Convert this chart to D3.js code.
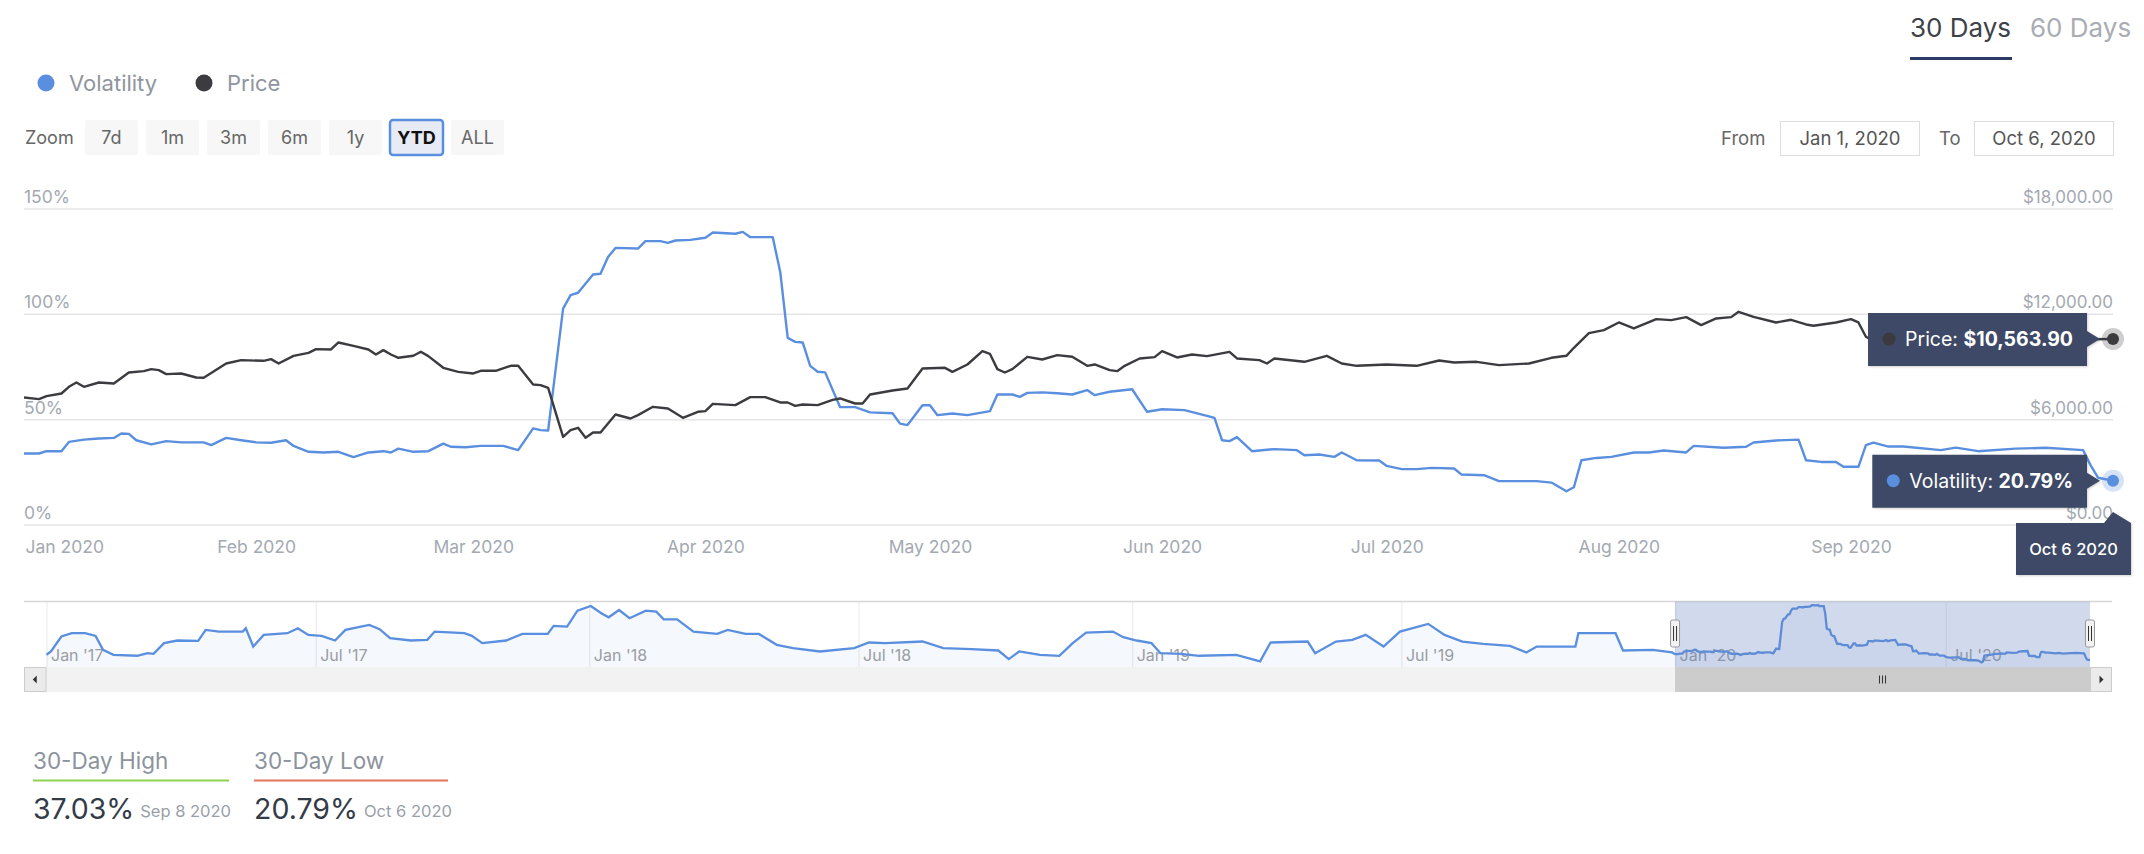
<!DOCTYPE html>
<html><head><meta charset="utf-8">
<script src="https://cdn.jsdelivr.net/npm/d3@7"></script>
<style>
html,body{margin:0;padding:0;background:#fff;}
svg{display:block;font-family:Inter,"Noto Sans",sans-serif;}
</style></head><body>
<svg id="chart" width="2144" height="854"></svg>
<script>
// ---------------- DATA ----------------
const seriesNames = ["Volatility", "Price"];
const periodTabs = ["30 Days", "60 Days"];
const zoomButtons = ["7d", "1m", "3m", "6m", "1y", "YTD", "ALL"];
const selectedZoom = "YTD";
const rangeFrom = "Jan 1, 2020";
const rangeTo = "Oct 6, 2020";
const volTicks = [0, 50, 100, 150];
const priceTicks = [0, 6000, 12000, 18000];
const monthTicks = ["2020-01-01","2020-02-01","2020-03-01","2020-04-01","2020-05-01","2020-06-01","2020-07-01","2020-08-01","2020-09-01"];
const navTicks = ["2017-01-01","2017-07-01","2018-01-01","2018-07-01","2019-01-01","2019-07-01","2020-01-01","2020-07-01"];

const volDates = ["2020-01-01","2020-01-03","2020-01-04","2020-01-06","2020-01-07","2020-01-09","2020-01-11","2020-01-13","2020-01-14","2020-01-15","2020-01-16","2020-01-18","2020-01-20","2020-01-22","2020-01-25","2020-01-26","2020-01-28","2020-01-30","2020-02-01","2020-02-03","2020-02-05","2020-02-06","2020-02-08","2020-02-10","2020-02-12","2020-02-14","2020-02-16","2020-02-18","2020-02-19","2020-02-20","2020-02-22","2020-02-24","2020-02-26","2020-02-27","2020-02-29","2020-03-02","2020-03-05","2020-03-07","2020-03-09","2020-03-10","2020-03-11","2020-03-12","2020-03-13","2020-03-14","2020-03-15","2020-03-17","2020-03-18","2020-03-19","2020-03-20","2020-03-23","2020-03-24","2020-03-26","2020-03-27","2020-03-28","2020-03-30","2020-04-01","2020-04-02","2020-04-05","2020-04-06","2020-04-07","2020-04-10","2020-04-11","2020-04-12","2020-04-13","2020-04-14","2020-04-15","2020-04-16","2020-04-17","2020-04-19","2020-04-21","2020-04-23","2020-04-26","2020-04-27","2020-04-28","2020-04-30","2020-05-01","2020-05-02","2020-05-04","2020-05-06","2020-05-09","2020-05-10","2020-05-12","2020-05-13","2020-05-14","2020-05-16","2020-05-18","2020-05-20","2020-05-22","2020-05-23","2020-05-25","2020-05-28","2020-05-30","2020-06-01","2020-06-04","2020-06-07","2020-06-08","2020-06-09","2020-06-10","2020-06-11","2020-06-13","2020-06-16","2020-06-19","2020-06-20","2020-06-22","2020-06-24","2020-06-25","2020-06-27","2020-06-30","2020-07-01","2020-07-03","2020-07-05","2020-07-07","2020-07-10","2020-07-11","2020-07-14","2020-07-16","2020-07-21","2020-07-23","2020-07-25","2020-07-26","2020-07-27","2020-07-29","2020-07-31","2020-08-03","2020-08-05","2020-08-07","2020-08-10","2020-08-11","2020-08-15","2020-08-18","2020-08-19","2020-08-22","2020-08-25","2020-08-26","2020-08-28","2020-08-30","2020-08-31","2020-09-02","2020-09-03","2020-09-04","2020-09-06","2020-09-08","2020-09-13","2020-09-15","2020-09-18","2020-09-23","2020-09-27","2020-10-02","2020-10-03","2020-10-04","2020-10-06"];
const volValues = [33.7,33.7,34.8,34.8,39.2,40.3,40.8,41.1,43.2,43.0,40.0,38.0,39.6,39.0,39.0,37.7,41.1,40.0,39.0,38.8,40.0,37.3,34.5,34.2,34.5,32.0,34.2,34.8,34.2,36.0,34.5,34.8,38.4,36.9,36.7,37.3,37.3,35.3,45.6,44.8,44.6,73.5,102.5,108.9,110.0,118.7,119.0,127.0,131.3,131.0,134.5,134.5,133.7,134.8,135.1,136.1,138.6,138.0,138.9,136.4,136.4,119.9,88.6,86.7,86.4,75.3,72.5,72.2,55.7,55.7,53.2,52.8,47.9,47.2,56.6,56.6,51.9,52.7,51.9,53.8,61.7,61.7,60.6,62.5,62.7,62.3,61.7,63.8,61.4,63.0,64.2,53.5,54.7,54.3,51.6,50.6,40.0,39.6,41.5,34.8,35.8,35.3,32.9,33.2,32.1,34.2,30.5,30.4,27.8,26.3,26.3,26.9,26.6,23.7,23.4,20.6,20.6,19.9,15.8,17.7,30.5,31.6,32.1,34.2,34.2,35.1,34.2,37.3,36.4,36.9,38.9,39.9,40.3,30.5,29.7,29.7,27.4,27.4,37.7,38.9,37.0,37.03,35.3,36.5,34.8,36.0,36.4,35.3,28.2,22.2,20.79];

const priceDates = ["2020-01-01","2020-01-03","2020-01-04","2020-01-06","2020-01-07","2020-01-08","2020-01-09","2020-01-11","2020-01-13","2020-01-15","2020-01-17","2020-01-18","2020-01-19","2020-01-20","2020-01-22","2020-01-24","2020-01-25","2020-01-28","2020-01-30","2020-02-02","2020-02-03","2020-02-04","2020-02-06","2020-02-08","2020-02-09","2020-02-11","2020-02-12","2020-02-14","2020-02-16","2020-02-17","2020-02-18","2020-02-19","2020-02-20","2020-02-22","2020-02-23","2020-02-24","2020-02-26","2020-02-28","2020-03-01","2020-03-02","2020-03-04","2020-03-06","2020-03-07","2020-03-09","2020-03-10","2020-03-11","2020-03-13","2020-03-14","2020-03-15","2020-03-16","2020-03-17","2020-03-18","2020-03-20","2020-03-22","2020-03-23","2020-03-25","2020-03-27","2020-03-29","2020-03-31","2020-04-01","2020-04-02","2020-04-05","2020-04-07","2020-04-09","2020-04-11","2020-04-12","2020-04-13","2020-04-14","2020-04-16","2020-04-18","2020-04-19","2020-04-21","2020-04-22","2020-04-23","2020-04-26","2020-04-28","2020-04-30","2020-05-03","2020-05-04","2020-05-06","2020-05-08","2020-05-09","2020-05-10","2020-05-11","2020-05-12","2020-05-14","2020-05-16","2020-05-18","2020-05-20","2020-05-22","2020-05-23","2020-05-25","2020-05-26","2020-05-27","2020-05-29","2020-05-31","2020-06-01","2020-06-03","2020-06-05","2020-06-07","2020-06-10","2020-06-11","2020-06-14","2020-06-15","2020-06-16","2020-06-20","2020-06-23","2020-06-25","2020-06-27","2020-07-01","2020-07-05","2020-07-08","2020-07-10","2020-07-13","2020-07-16","2020-07-20","2020-07-23","2020-07-25","2020-07-26","2020-07-28","2020-07-30","2020-08-01","2020-08-03","2020-08-06","2020-08-08","2020-08-10","2020-08-12","2020-08-14","2020-08-16","2020-08-17","2020-08-19","2020-08-22","2020-08-24","2020-08-26","2020-08-27","2020-08-30","2020-09-01","2020-09-02","2020-09-03","2020-09-04","2020-09-05","2020-09-07","2020-09-10","2020-09-14","2020-09-17","2020-09-20","2020-09-23","2020-09-25","2020-09-29","2020-10-01","2020-10-03","2020-10-06"];
const priceValues = [7235,7140,7311,7463,7843,8090,7843,8090,8033,8659,8735,8849,8792,8564,8602,8375,8356,9172,9362,9324,9419,9172,9609,9780,9989,9970,10369,10179,9970,9685,9932,9685,9495,9609,9837,9590,8925,8697,8602,8754,8754,9039,9039,7976,7938,7786,4994,5374,5507,4937,5241,5241,6267,6039,6229,6703,6609,6077,6419,6457,6874,6798,7254,7254,6950,6950,6760,6836,6798,7102,7178,6893,6893,7406,7634,7748,8887,8925,8697,9115,9875,9723,8849,8659,8849,9552,9400,9647,9552,9039,9115,8792,8735,9039,9457,9533,9875,9514,9685,9590,9837,9457,9362,9172,9457,9267,9609,9172,9039,9115,9039,9343,9229,9267,9077,9172,9495,9609,10065,10900,11071,11508,11166,11698,11641,11812,11356,11736,11812,12116,11831,11508,11660,11394,11318,11508,11698,11508,10691,10450,10200,10300,10350,10650,10900,10800,10500,10650,10800,10600,10550,10563.9];

// navigator history (30-day volatility, %) before 2020
const navDates = ["2017-01-01","2017-01-04","2017-01-11","2017-01-18","2017-01-27","2017-02-03","2017-02-08","2017-02-15","2017-03-03","2017-03-10","2017-03-14","2017-03-21","2017-03-30","2017-04-13","2017-04-18","2017-04-27","2017-05-13","2017-05-15","2017-05-20","2017-05-27","2017-06-12","2017-06-19","2017-06-26","2017-07-05","2017-07-14","2017-07-21","2017-08-06","2017-08-13","2017-08-20","2017-09-03","2017-09-14","2017-09-19","2017-10-09","2017-10-14","2017-10-21","2017-11-06","2017-11-17","2017-12-04","2017-12-08","2017-12-17","2017-12-24","2018-01-02","2018-01-09","2018-01-14","2018-01-21","2018-01-28","2018-02-08","2018-02-15","2018-02-20","2018-03-01","2018-03-12","2018-03-28","2018-04-04","2018-04-16","2018-04-25","2018-05-07","2018-05-18","2018-06-05","2018-06-28","2018-07-08","2018-07-19","2018-08-13","2018-08-27","2018-09-15","2018-10-03","2018-10-10","2018-10-17","2018-10-31","2018-11-13","2018-11-22","2018-12-01","2018-12-19","2018-12-26","2019-01-04","2019-01-14","2019-01-20","2019-02-03","2019-02-15","2019-03-12","2019-03-28","2019-04-04","2019-04-29","2019-05-04","2019-05-18","2019-05-29","2019-06-07","2019-06-19","2019-06-30","2019-07-19","2019-07-30","2019-08-11","2019-08-25","2019-09-12","2019-09-23","2019-09-30","2019-10-26","2019-10-28","2019-11-22","2019-11-27","2019-12-17","2019-12-30"];
const navValues = [32.3,39.4,71.4,78.5,78.5,72.8,43.0,32.3,30.2,35.8,34.4,57.2,62.9,62.1,85.6,82.0,82.0,89.2,50.0,74.9,78.5,89.2,74.9,72.8,62.9,85.6,96.3,87.0,67.8,62.9,64.3,82.0,78.5,72.8,57.2,62.9,77.0,77.0,94.1,92.7,126.8,136.8,121.1,112.6,128.2,110.5,126.8,124.7,108.3,108.3,82.0,77.0,85.6,77.0,77.0,53.6,46.5,39.4,46.5,58.6,57.2,60.7,46.5,44.4,41.5,23.1,39.4,32.3,30.2,57.2,79.9,82.0,70.0,62.9,57.2,35.8,34.4,30.2,32.3,18.1,58.6,60.7,35.8,60.7,64.3,74.9,50.0,82.0,98.4,74.9,60.7,55.7,51.5,37.3,50.0,50.0,78.5,78.5,41.5,43.0,37.3];

// ---------------- STYLE ----------------
const C = {
  vol: "#5a8fdf", price: "#3b3b40", grid: "#e6e6e6", axis: "#a3a9b1",
  legend: "#8f959e", tip: "#3d4a66", navSel: "rgba(102,133,194,0.3)"
};
const plot = {left: 24, right: 2113, top: 208.5, bottom: 524.5};
const nav = {left: 46.5, right: 2090, top: 601.5, bottom: 667, sbBottom: 692, outL: 24, outR: 2112};

const parse = d3.utcParse("%Y-%m-%d");
const volData = volDates.map((d, i) => ({date: parse(d), value: volValues[i]}));
const priceData = priceDates.map((d, i) => ({date: parse(d), value: priceValues[i]}));
const navData = navDates.map((d, i) => ({date: parse(d), value: navValues[i]})).concat(volData);

const svg = d3.select("#chart");
svg.append("rect").attr("width", 2144).attr("height", 854).attr("fill", "#fff");

const defs = svg.append("defs");
const f = defs.append("filter").attr("id", "shadow").attr("x", "-10%").attr("y", "-20%").attr("width", "130%").attr("height", "160%");
f.append("feDropShadow").attr("dx", 1).attr("dy", 1).attr("stdDeviation", 1.2).attr("flood-color", "#000").attr("flood-opacity", 0.18);
defs.append("clipPath").attr("id", "plotClip").append("rect")
  .attr("x", plot.left).attr("y", plot.top - 20).attr("width", plot.right - plot.left + 1).attr("height", plot.bottom - plot.top + 22);

// ---------------- SCALES ----------------
const x = d3.scaleUtc().domain([parse("2020-01-01"), parse("2020-10-06")]).range([plot.left, plot.right]);
const yVol = d3.scaleLinear().domain([0, 150]).range([plot.bottom, plot.top]);
const yPrice = d3.scaleLinear().domain([0, 18000]).range([plot.bottom, plot.top]);
const xNav = d3.scaleUtc().domain([parse("2017-01-01"), parse("2020-10-06")]).range([nav.left, nav.right]);
const yNav = d3.scaleLinear().domain(d3.extent(navData, d => d.value)).range([nav.bottom - 4.5, nav.top + 3.5]);

// ---------------- TOP CONTROLS ----------------
const tabs = svg.append("g").attr("font-size", 26);
tabs.append("text").attr("x", 1910).attr("y", 37).attr("fill", "#3d4148").text(periodTabs[0]);
tabs.append("text").attr("x", 2030).attr("y", 37).attr("fill", "#a9adb3").text(periodTabs[1]);
tabs.append("rect").attr("x", 1910).attr("y", 57).attr("width", 102).attr("height", 3).attr("fill", "#2b3b67");

const legend = svg.append("g").attr("font-size", 22);
legend.append("circle").attr("cx", 46).attr("cy", 83).attr("r", 8.5).attr("fill", C.vol);
legend.append("text").attr("x", 69).attr("y", 91).attr("fill", C.legend).text(seriesNames[0]);
legend.append("circle").attr("cx", 204).attr("cy", 83).attr("r", 8.5).attr("fill", C.price);
legend.append("text").attr("x", 227).attr("y", 91).attr("fill", C.legend).text(seriesNames[1]);

const zb = svg.append("g").attr("font-size", 18);
zb.append("text").attr("x", 25).attr("y", 144).attr("fill", "#666").text("Zoom");
zoomButtons.forEach((b, i) => {
  const bx = 85 + i * 61, sel = b === selectedZoom;
  zb.append("rect").attr("x", bx).attr("y", 120).attr("width", 53).attr("height", 35).attr("rx", sel ? 3 : 2)
    .attr("fill", sel ? "#e6ebf5" : "#f7f7f7")
    .attr("stroke", sel ? C.vol : "none").attr("stroke-width", sel ? 2.5 : 0);
  zb.append("text").attr("x", bx + 26.5).attr("y", 144).attr("text-anchor", "middle")
    .attr("fill", sel ? "#111" : "#666").attr("font-weight", sel ? 700 : 400).text(b);
});

const rg = svg.append("g").attr("font-size", 18.5).attr("fill", "#666");
rg.append("text").attr("x", 1721).attr("y", 145).text("From");
rg.append("rect").attr("x", 1780.5).attr("y", 121.5).attr("width", 139).attr("height", 34).attr("fill", "#fff").attr("stroke", "#ddd");
rg.append("text").attr("x", 1850).attr("y", 145).attr("text-anchor", "middle").attr("fill", "#555").text(rangeFrom);
rg.append("text").attr("x", 1939).attr("y", 145).text("To");
rg.append("rect").attr("x", 1974.5).attr("y", 121.5).attr("width", 139).attr("height", 34).attr("fill", "#fff").attr("stroke", "#ddd");
rg.append("text").attr("x", 2044).attr("y", 145).attr("text-anchor", "middle").attr("fill", "#555").text(rangeTo);

// ---------------- AXES ----------------
const gLeft = svg.append("g").attr("transform", `translate(${plot.left},0)`)
  .call(d3.axisLeft(yVol).tickValues(volTicks).tickSize(-(plot.right - plot.left)).tickFormat(d => d + "%"));
gLeft.attr("font-family", null).attr("font-size", 17.5);
gLeft.select(".domain").remove();
gLeft.selectAll(".tick line").attr("stroke", C.grid).attr("stroke-width", 1.5);
gLeft.selectAll(".tick text").attr("x", 0).attr("y", -6).attr("dy", 0).attr("text-anchor", "start").attr("fill", C.axis);

const gRight = svg.append("g").attr("transform", `translate(${plot.right},0)`)
  .call(d3.axisRight(yPrice).tickValues(priceTicks).tickSize(0).tickFormat(d3.format("$,.2f")));
gRight.attr("font-family", null).attr("font-size", 17);
gRight.select(".domain").remove();
gRight.selectAll(".tick text").attr("x", 0).attr("y", -6).attr("dy", 0).attr("text-anchor", "end").attr("fill", C.axis);

const gX = svg.append("g").attr("transform", `translate(0,${plot.bottom})`)
  .call(d3.axisBottom(x).tickValues(monthTicks.map(parse)).tickSize(0).tickPadding(16.5).tickFormat(d3.utcFormat("%b %Y")));
gX.attr("font-family", null).attr("font-size", 17.5);
gX.select(".domain").remove();
gX.selectAll(".tick text").attr("fill", C.axis);
gX.selectAll(".tick text").filter((d, i) => i === 0).attr("text-anchor", "start").attr("x", 1);

// ---------------- SERIES ----------------
const lineVol = d3.line().x(d => x(d.date)).y(d => yVol(d.value));
const linePrice = d3.line().x(d => x(d.date)).y(d => yPrice(d.value));
const series = svg.append("g").attr("clip-path", "url(#plotClip)");
series.append("path").datum(volData).attr("d", lineVol).attr("fill", "none").attr("stroke", C.vol).attr("stroke-width", 2.4).attr("stroke-linejoin", "round");
series.append("path").datum(priceData).attr("d", linePrice).attr("fill", "none").attr("stroke", C.price).attr("stroke-width", 2.4).attr("stroke-linejoin", "round");

// ---------------- TOOLTIPS ----------------
const lastV = volData[volData.length - 1], lastP = priceData[priceData.length - 1];
const px = x(lastV.date);

function tooltip(cy, label, value, dotColor) {
  const g = svg.append("g");
  const right = px - 26, tipX = px - 13;
  const t = g.append("text").attr("y", cy + 7).attr("font-size", 19.5).attr("fill", "#fff");
  t.append("tspan").text(label + ": ");
  t.append("tspan").attr("font-weight", 700).text(value);
  const w = t.node().getComputedTextLength();
  const textX = right - 14 - w;
  t.attr("x", textX);
  const dotX = textX - 16, left = dotX - 21;
  const top = cy - 26, bottom = cy + 27;
  g.insert("path", "text").attr("filter", "url(#shadow)")
    .attr("d", `M${left},${top}H${right}V${cy - 8}L${tipX},${cy}L${right},${cy + 8}V${bottom}H${left}Z`)
    .attr("fill", C.tip);
  g.insert("circle", "text").attr("cx", dotX).attr("cy", cy).attr("r", 6.5).attr("fill", dotColor);
}

svg.append("circle").attr("cx", px).attr("cy", yPrice(lastP.value)).attr("r", 11).attr("fill", "rgba(59,59,64,0.25)");
svg.append("circle").attr("cx", px).attr("cy", yPrice(lastP.value)).attr("r", 6).attr("fill", C.price);
svg.append("circle").attr("cx", px).attr("cy", yVol(lastV.value)).attr("r", 11).attr("fill", "rgba(90,143,223,0.25)");
svg.append("circle").attr("cx", px).attr("cy", yVol(lastV.value)).attr("r", 6).attr("fill", C.vol);

tooltip(yPrice(lastP.value), "Price", d3.format("$,.2f")(lastP.value), "#3a3a3f");
tooltip(yVol(lastV.value), "Volatility", d3.format(".2f")(lastV.value) + "%", C.vol);

(function () {
  const g = svg.append("g");
  const right = px + 18, left = right - 115, top = plot.bottom - 1.5, bottom = top + 52;
  g.append("path").attr("filter", "url(#shadow)")
    .attr("d", `M${left},${top}H${px - 9}L${px},${top - 11}L${right},${top}V${bottom}H${left}Z`)
    .attr("fill", C.tip);
  g.append("text").attr("x", (left + right) / 2).attr("y", top + 32).attr("text-anchor", "middle")
    .attr("font-size", 16.5).attr("font-weight", 500).attr("fill", "#fff").text(d3.utcFormat("%b %-d %Y")(lastV.date));
})();

// ---------------- NAVIGATOR ----------------
const ng = svg.append("g");
const gNav = ng.append("g").attr("transform", `translate(0,${nav.bottom})`)
  .call(d3.axisBottom(xNav).tickValues(navTicks.map(parse)).tickSize(-(nav.bottom - nav.top)).tickFormat(d3.utcFormat("%b '%y")));
gNav.attr("font-family", null).attr("font-size", 16);
gNav.select(".domain").remove();
gNav.selectAll(".tick line").attr("stroke", "#e9e9e9");
gNav.selectAll(".tick text").attr("x", 4).attr("y", -6).attr("dy", 0).attr("text-anchor", "start").attr("fill", "#a0a0a0");

const areaNav = d3.area().x(d => xNav(d.date)).y0(nav.bottom).y1(d => yNav(d.value));
const lineNav = d3.line().x(d => xNav(d.date)).y(d => yNav(d.value));
ng.append("path").datum(navData).attr("d", areaNav).attr("fill", "rgba(90,143,223,0.06)");
ng.append("path").datum(navData).attr("d", lineNav).attr("fill", "none").attr("stroke", C.vol).attr("stroke-width", 2.3);

ng.append("line").attr("x1", nav.outL).attr("x2", nav.outR).attr("y1", nav.top).attr("y2", nav.top).attr("stroke", "#d6d6d6").attr("stroke-width", 1.5);

const selL = xNav(parse("2020-01-01")), selR = xNav(lastV.date);
ng.append("rect").attr("x", nav.outL).attr("y", nav.bottom).attr("width", nav.outR - nav.outL).attr("height", nav.sbBottom - nav.bottom).attr("fill", "#f2f2f2");
ng.append("rect").attr("x", selL).attr("y", nav.bottom).attr("width", selR - selL).attr("height", nav.sbBottom - nav.bottom).attr("fill", "#cccccc");
[-3, 0, 3].forEach(o => ng.append("line").attr("x1", (selL + selR) / 2 + o).attr("x2", (selL + selR) / 2 + o)
  .attr("y1", nav.bottom + 8.5).attr("y2", nav.bottom + 16.5).attr("stroke", "#333").attr("stroke-width", 1));
[[nav.outL, nav.left, -1], [nav.right, nav.outR, 1]].forEach(([a, b, dir]) => {
  ng.append("rect").attr("x", a + 0.5).attr("y", nav.bottom + 0.5).attr("width", b - a - 1).attr("height", nav.sbBottom - nav.bottom - 1)
    .attr("fill", "#ebebeb").attr("stroke", "#cccccc");
  const cx = (a + b) / 2, cy = (nav.bottom + nav.sbBottom) / 2;
  ng.append("path").attr("d", `M${cx + dir * 2.5},${cy}L${cx - dir * 1.5},${cy - 4}L${cx - dir * 1.5},${cy + 4}Z`).attr("fill", "#333");
});

ng.append("rect").attr("x", selL).attr("y", nav.top).attr("width", selR - selL).attr("height", nav.bottom - nav.top).attr("fill", C.navSel);

[selL, selR].forEach(hx => {
  ng.append("rect").attr("x", hx - 4.5).attr("y", 620).attr("width", 9).attr("height", 27).attr("rx", 2)
    .attr("fill", "#f2f2f2").attr("stroke", "#999");
  [-1.5, 1.5].forEach(o => ng.append("line").attr("x1", hx + o).attr("x2", hx + o).attr("y1", 626).attr("y2", 641).attr("stroke", "#333").attr("stroke-width", 1));
});

// ---------------- STATS ----------------
const windowStart = d3.utcDay.offset(lastV.date, -29);
const recent = volData.filter(d => d.date >= windowStart);
const hi = recent.reduce((a, b) => (b.value > a.value ? b : a));
const lo = recent.reduce((a, b) => (b.value < a.value ? b : a));
const stats = [
  {label: "30-Day High", item: hi, color: "#8fd14f", x0: 33, x1: 229},
  {label: "30-Day Low", item: lo, color: "#e2735c", x0: 254, x1: 448}
];
const fmtD = d3.utcFormat("%b %-d %Y");
stats.forEach(s => {
  const g = svg.append("g");
  g.append("text").attr("x", s.x0).attr("y", 769).attr("font-size", 22.5).attr("fill", "#8c939d").text(s.label);
  g.append("rect").attr("x", s.x0).attr("y", 779.5).attr("width", s.x1 - s.x0).attr("height", 2).attr("fill", s.color);
  const v = g.append("text").attr("x", s.x0).attr("y", 819).attr("font-size", 28.5).attr("fill", "#333b47").text(d3.format(".2f")(s.item.value) + "%");
  const w = v.node().getComputedTextLength();
  g.append("text").attr("x", s.x0 + w + 6).attr("y", 817).attr("font-size", 16.5).attr("fill", "#9aa0a8").text(fmtD(s.item.date));
});
</script>
</body></html>
